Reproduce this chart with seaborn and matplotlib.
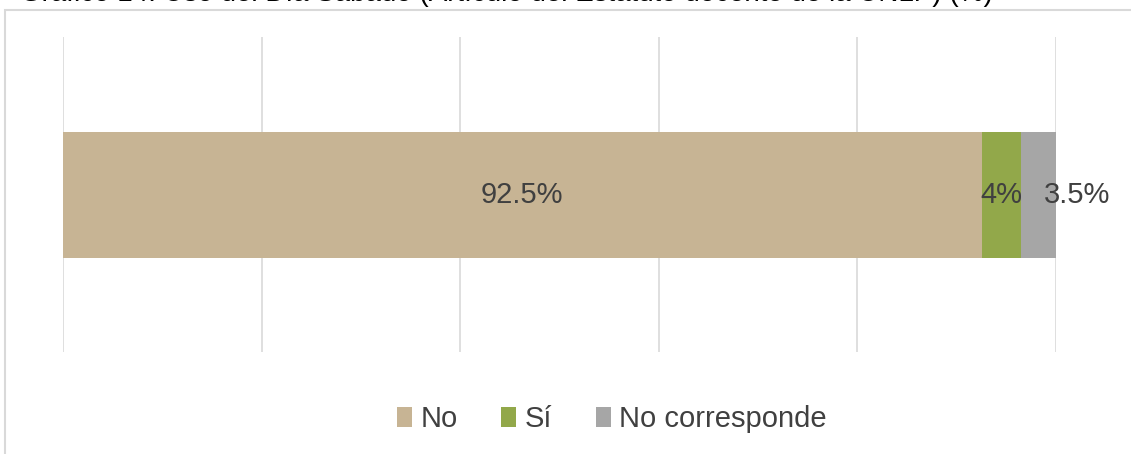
import matplotlib
matplotlib.use("Agg")
import matplotlib.pyplot as plt
import matplotlib.patches as mpatches
import seaborn as sns
import pandas as pd
import numpy as np

# Data
categories = ["No", "Sí", "No corresponde"]
values = [92.5, 4.0, 3.5]
labels = ["92.5%", "4%", "3.5%"]
colors = ["#C7B494", "#92A84A", "#A6A6A6"]
title = "Gráfico 14. Uso del Día Sábado (Artículo del Estatuto docente de la UNLP) (%)"

sns.set_theme(style="white")
plt.rcParams["font.family"] = ["Liberation Sans", "DejaVu Sans"]

W, H = 1131, 454
fig = plt.figure(figsize=(W / 100, H / 100), dpi=100)
ax = fig.add_axes([63 / W, 1 - 352 / H, (1056 - 63) / W, (352 - 37) / H])

cum = np.cumsum(values)
ends = list(cum)
starts = [0.0] + list(cum[:-1])
# stacked bar: draw cumulative totals from largest to smallest
for i in reversed(range(len(categories))):
    df = pd.DataFrame({"grupo": [""], "valor": [ends[i]]})
    sns.barplot(data=df, x="valor", y="grupo", orient="h", color=colors[i],
                saturation=1, width=0.4, ax=ax, linewidth=0, zorder=3)

ax.set_xlim(0, 100)
ax.set_ylim(0.5, -0.5)
ax.set_xticks(np.arange(0, 101, 20))
ax.set_yticks([])
ax.set_xticklabels([])
ax.tick_params(axis="x", length=0)
ax.grid(axis="x", color="#D9D9D9", linewidth=1.2, zorder=0)
ax.grid(axis="y", visible=False)
for s in ax.spines.values():
    s.set_visible(False)
ax.set_xlabel("")
ax.set_ylabel("")

# data labels
for i, lab in enumerate(labels):
    center = (starts[i] + ends[i]) / 2
    if i == len(labels) - 1:
        ax.annotate(lab, xy=(center, 0), xytext=(28, 0), textcoords="offset points",
                    ha="center", va="center", fontsize=21, color="#404040",
                    annotation_clip=False, zorder=5)
    else:
        ax.text(center, 0, lab, ha="center", va="center", fontsize=21,
                color="#404040", zorder=5)

# legend
handles = [mpatches.Patch(facecolor=c, edgecolor="none", label=n)
           for c, n in zip(colors, categories)]
fig.legend(handles=handles, loc="center", bbox_to_anchor=(612 / W, 1 - 419 / H),
           ncol=3, frameon=False, fontsize=21, labelcolor="#404040",
           handlelength=0.5, handleheight=0.7, handletextpad=0.3,
           columnspacing=1.5)

# chart-area border (left and top visible)
fig.add_artist(mpatches.Rectangle((5 / W, -0.2), 1.5, 1.2 - 10 / H,
                                  transform=fig.transFigure, fill=False,
                                  edgecolor="#D9D9D9", linewidth=1.5, clip_on=False))

# title (mostly cut off at the top of the image, as in the reference)
fig.text(20 / W, 1 - 0.8 / H, title, ha="left", va="baseline", fontsize=20,
         color="#000000")

fig.savefig("out.png", dpi=100)
